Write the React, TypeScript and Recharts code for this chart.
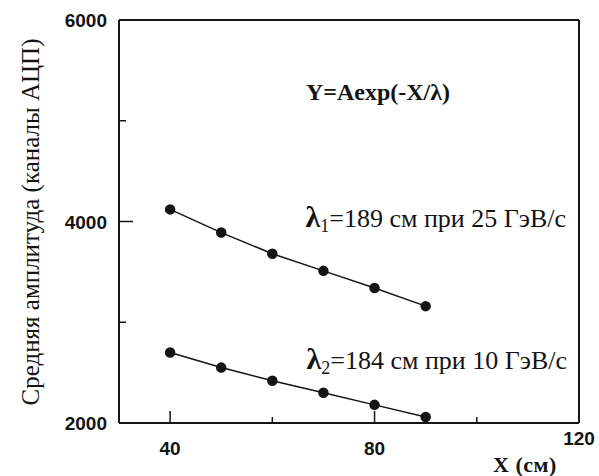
import React from 'react';
import { LineChart, Line, XAxis, YAxis, ReferenceLine } from 'recharts';

// Distance along X (cm) where the amplitude was measured
const positions = [40, 50, 60, 70, 80, 90];
// Mean amplitude (ADC channels) for 25 GeV/c and 10 GeV/c
const amp25 = [4120, 3890, 3680, 3510, 3340, 3160];
const amp10 = [2700, 2550, 2420, 2300, 2180, 2060];

const xDomain = [30, 120];
const yDomain = [2000, 6000];
const xTicks = [40, 60, 80, 100, 120];
const xLabelled = [40, 80, 120];
const yTicks = [2000, 3000, 4000, 5000, 6000];
const yLabelled = [2000, 4000, 6000];

const data = positions.map((x, i) => ({ x, a25: amp25[i], a10: amp10[i] }));

const INK = '#141414';
const TICK_MARGIN = 12;
const sans: React.CSSProperties = { fontFamily: "'Liberation Sans', Arial, sans-serif", fontWeight: 'bold' };
const serif: React.CSSProperties = { fontFamily: "'Liberation Serif', 'Times New Roman', serif" };

const YTick = (props: any) => {
  const { x, y, payload } = props;
  const v = payload.value;
  const axisX = x + TICK_MARGIN;
  const len = v === 4000 ? 14 : 7;
  const corner = v === yTicks[0] || v === yTicks[yTicks.length - 1];
  return (
    <g>
      {!corner && <line x1={axisX} x2={axisX + len} y1={y} y2={y} stroke={INK} strokeWidth={1.5} />}
      {yLabelled.includes(v) && (
        <text x={x} y={y + 7} textAnchor="end" style={{ ...sans, fontSize: 19 }} fill={INK}>
          {v}
        </text>
      )}
    </g>
  );
};

const XTick = (props: any) => {
  const { x, y, payload } = props;
  const v = payload.value;
  const axisY = y - TICK_MARGIN;
  const len = v % 40 === 0 ? 12 : 6;
  const last = v === xTicks[xTicks.length - 1];
  return (
    <g>
      {!last && <line x1={x} x2={x} y1={axisY} y2={axisY - len} stroke={INK} strokeWidth={1.5} />}
      {xLabelled.includes(v) && (
        <text x={x} y={axisY + (last ? 22 : 32)} textAnchor="middle" style={{ ...sans, fontSize: 19 }} fill={INK}>
          {v}
        </text>
      )}
    </g>
  );
};

const App: React.FC = () => {
  return (
    <div style={{ position: 'absolute', left: 0, top: 0, width: 599, height: 476, background: '#fff' }}>
      <LineChart width={599} height={476} data={data} margin={{ top: 20, right: 20, left: 0, bottom: 0 }}>
        <XAxis
          dataKey="x"
          type="number"
          domain={xDomain}
          ticks={xTicks}
          tick={<XTick />}
          tickLine={false}
          tickSize={0}
          tickMargin={TICK_MARGIN}
          height={53}
          stroke={INK}
          strokeWidth={2}
          interval={0}
        />
        <YAxis
          type="number"
          domain={yDomain}
          ticks={yTicks}
          tick={<YTick />}
          tickLine={false}
          tickSize={0}
          tickMargin={TICK_MARGIN}
          width={119}
          stroke={INK}
          strokeWidth={2}
          interval={0}
        />
        {/* top and right edges of the frame */}
        <ReferenceLine y={yDomain[1]} stroke={INK} strokeWidth={2} />
        <ReferenceLine x={xDomain[1]} stroke={INK} strokeWidth={2} />
        <Line dataKey="a25" stroke={INK} strokeWidth={1.5} dot={{ r: 4.5, fill: INK, stroke: INK }} isAnimationActive={false} />
        <Line dataKey="a10" stroke={INK} strokeWidth={1.5} dot={{ r: 4.5, fill: INK, stroke: INK }} isAnimationActive={false} />
        <text x={30} y={222} transform="rotate(-90 30 222)" textAnchor="middle" dominantBaseline="central" style={{ ...serif, fontSize: 25 }} fill={INK}>
          Средняя амплитуда (каналы АЦП)
        </text>
        <text x={525} y={472} textAnchor="middle" style={{ ...serif, fontWeight: 'bold', fontSize: 22, letterSpacing: 0.5 }} fill={INK}>
          X (см)
        </text>
        <text x={378} y={100} textAnchor="middle" style={{ ...serif, fontWeight: 'bold', fontSize: 24 }} fill={INK}>
          Y=Aexp(-X/λ)
        </text>
        <text x={566} y={227} textAnchor="end" style={{ ...serif, fontSize: 26 }} fill={INK}>
          <tspan style={{ fontSize: 30, fontWeight: 'bold' }}>λ</tspan>
          <tspan style={{ fontSize: 18 }} dy={5}>1</tspan>
          <tspan dy={-5}>=189 см при 25 ГэВ/с</tspan>
        </text>
        <text x={567} y={369} textAnchor="end" style={{ ...serif, fontSize: 26 }} fill={INK}>
          <tspan style={{ fontSize: 30, fontWeight: 'bold' }}>λ</tspan>
          <tspan style={{ fontSize: 18 }} dy={5}>2</tspan>
          <tspan dy={-5}>=184 см при 10 ГэВ/с</tspan>
        </text>
      </LineChart>
    </div>
  );
};

export default App;
